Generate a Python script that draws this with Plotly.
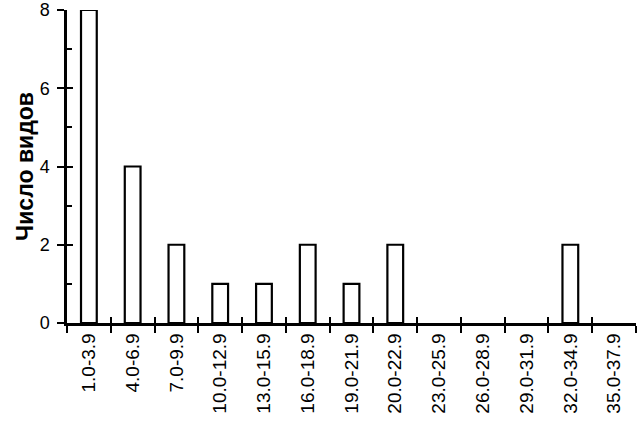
import plotly.graph_objects as go

categories = ["1.0-3.9", "4.0-6.9", "7.0-9.9", "10.0-12.9", "13.0-15.9", "16.0-18.9",
              "19.0-21.9", "20.0-22.9", "23.0-25.9", "26.0-28.9", "29.0-31.9",
              "32.0-34.9", "35.0-37.9"]
species_count = [8, 4, 2, 1, 1, 2, 1, 2, 0, 0, 0, 2, 0]
y_ticks = [0, 2, 4, 6, 8]
y_title = "Число видов"

FONT = "Liberation Sans, Arial, sans-serif"

# zero-height bars are not drawn in the reference
bar_values = [v if v else None for v in species_count]

fig = go.Figure()
fig.add_trace(go.Bar(
    x=categories, y=bar_values,
    width=0.36,
    marker=dict(color="white", line=dict(color="black", width=2.2)),
    hoverinfo="skip", showlegend=False,
))
# invisible helper trace for the overlaid axes (crossing tick marks)
fig.add_trace(go.Bar(
    x=categories, y=bar_values, xaxis="x2", yaxis="y2",
    width=0.36, marker=dict(color="rgba(0,0,0,0)", line=dict(width=0)),
    hoverinfo="skip", showlegend=False,
))

fig.update_layout(
    width=637, height=426,
    margin=dict(l=67, r=1, t=10, b=103),
    plot_bgcolor="white", paper_bgcolor="white",
    font=dict(family=FONT, size=19, color="black"),
    xaxis=dict(
        type="category", categoryorder="array", categoryarray=categories,
        range=[-0.5, len(categories) - 0.5],
        tickson="boundaries", ticks="outside", ticklen=7, tickwidth=2, tickcolor="black",
        tickangle=-90, showline=True, linecolor="black", linewidth=2.5,
        showgrid=False, zeroline=False,
        tickfont=dict(family=FONT, size=19, color="black"),
    ),
    xaxis2=dict(
        type="category", categoryorder="array", categoryarray=categories,
        range=[-0.5, len(categories) - 0.5], overlaying="x",
        tickson="boundaries", ticks="inside", ticklen=6, tickwidth=2, tickcolor="black",
        showticklabels=False, showline=False, showgrid=False, zeroline=False,
    ),
    yaxis=dict(
        range=[0, 8], tickvals=y_ticks, ticks="outside", ticklen=7, tickwidth=2,
        tickcolor="black", showline=True, linecolor="black", linewidth=2.5,
        showgrid=False, zeroline=False, ticklabelstandoff=4,
        minor=dict(tickvals=[1, 3, 5, 7], ticks="inside", ticklen=5, tickwidth=2, tickcolor="black"),
        title=dict(text="<b>" + y_title + "</b>", font=dict(family=FONT, size=23, color="black"), standoff=0),
        tickfont=dict(family=FONT, size=18, color="black"),
    ),
    yaxis2=dict(
        range=[0, 8], tickvals=y_ticks, overlaying="y", ticks="inside", ticklen=6,
        tickwidth=2, tickcolor="black", showticklabels=False, showline=False,
        showgrid=False, zeroline=False,
    ),
)

fig.write_html("out.html", config={"displayModeBar": False},
               post_script="document.body.style.margin='0';")
